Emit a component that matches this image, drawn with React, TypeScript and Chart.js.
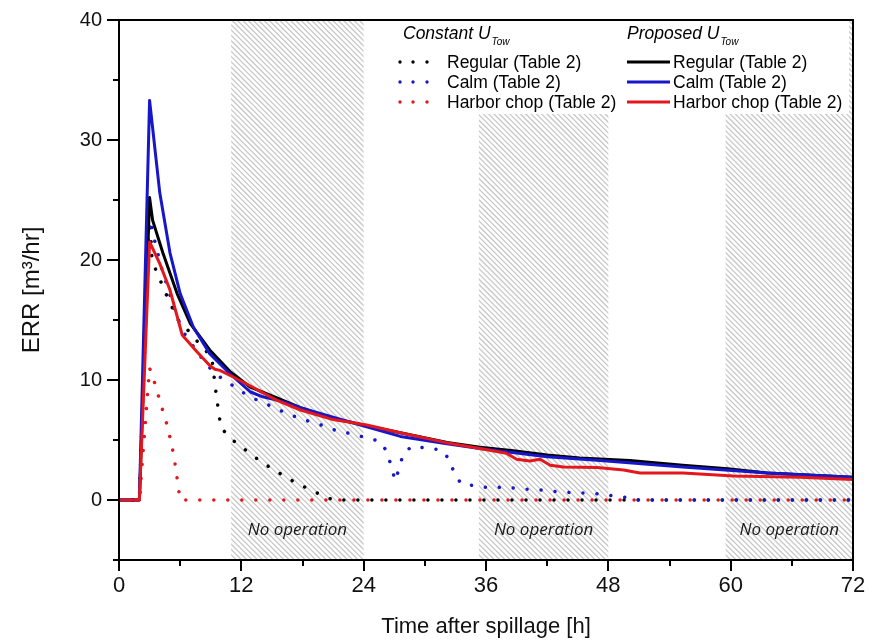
import React, { useEffect, useRef } from 'react';
import { Chart, registerables } from 'chart.js';

Chart.register(...registerables);

// ---------------- data ----------------
const xTickLabels = [0, 12, 24, 36, 48, 60, 72];
const yTickLabels = [0, 10, 20, 30, 40];

const noOperationStart = [11, 35.3, 59.5];
const noOperationEnd = [24, 48, 72];
const noOperationLabel = 'No operation';

const groupTitles = ['Constant U', 'Proposed U'];
const groupSubscript = 'Tow';
const seriesLabels = ['Regular (Table 2)', 'Calm (Table 2)', 'Harbor chop (Table 2)'];
const seriesColors = ['#000000', '#1717c9', '#e3171c'];

// Proposed U_Tow (solid)
const propRegularT = [0, 2, 3, 3.3, 4.3, 5.7, 7, 8.9, 10.9, 12.9, 15.5, 17.8, 21, 24.3, 27.6, 32.2, 35.4, 38.7, 42, 45.2, 50.1, 55.3, 59.7, 63.6, 72];
const propRegularV = [0, 0, 25.2, 23.3, 20.6, 17.2, 14.7, 12.5, 10.7, 9.4, 8.5, 7.7, 6.8, 6.2, 5.6, 4.8, 4.4, 4.1, 3.75, 3.5, 3.3, 2.9, 2.6, 2.25, 1.9];

const propCalmT = [0, 2, 3, 4, 5, 6, 7.3, 8.9, 10.9, 12.9, 14.1, 16.1, 17.8, 21, 24.3, 27.6, 32, 35.4, 42, 47.2, 55.3, 63.6, 72];
const propCalmV = [0, 0, 33.3, 25.6, 20.6, 17.2, 14.4, 12.2, 10.5, 9.0, 8.6, 8.2, 7.7, 6.9, 6.1, 5.3, 4.7, 4.3, 3.6, 3.3, 2.75, 2.25, 1.9];

const propHarborT = [0, 2, 3, 4, 5, 6.2, 7.6, 8.9, 9.4, 9.9, 11.2, 12.9, 15.5, 17.8, 21, 24.3, 27.6, 32, 35.4, 38, 39, 40.3, 41.3, 42.3, 43.6, 46.9, 49.5, 51.1, 55.3, 60.3, 66.8, 72];
const propHarborV = [0, 0, 21.5, 19.7, 17.5, 13.75, 12.4, 11.2, 10.9, 10.8, 10.25, 9.5, 8.3, 7.5, 6.7, 6.25, 5.6, 4.8, 4.3, 3.9, 3.4, 3.25, 3.4, 2.9, 2.75, 2.7, 2.5, 2.25, 2.25, 2.0, 1.9, 1.7];

// Constant U_Tow (dotted)
const constRegularT = [0, 2, 3, 3.2, 3.6, 4.2, 4.8, 5.8, 6.6, 7.8, 9.1, 9.4, 9.6, 9.8, 10, 11.3, 12.8, 14.1, 15.6, 17, 18.4, 19.9, 21, 72];
const constRegularV = [0, 0, 24.5, 20.4, 19.2, 18, 16.8, 15, 14.3, 13.1, 11.9, 9.75, 8.4, 7.2, 6.0, 4.9, 3.9, 3.1, 2.3, 1.6, 1.0, 0.4, 0, 0];

const constCalmT = [0, 2, 3, 3.3, 3.7, 4.0, 5.7, 6.5, 8.6, 9.9, 11.4, 12.8, 14.2, 15.7, 17.1, 18.5, 20, 21.4, 22.9, 24.2, 25.6, 26.3, 27.1, 27.5, 27.9, 28.8, 30.2, 31.6, 32.4, 32.9, 33.6, 35, 36.4, 37.9, 39.4, 40.7, 42.2, 43.6, 45, 46.4, 47.9, 49.4, 50.6, 51, 72];
const constCalmV = [0, 0, 24.5, 22.2, 21, 19.8, 15.2, 13.75, 11.25, 10.25, 9.4, 8.6, 8.1, 7.5, 7.0, 6.6, 6.2, 5.75, 5.5, 5.2, 4.9, 4.0, 1.6, 2.7, 3.9, 4.5, 4.3, 4.2, 3.4, 2.2, 1.3, 1.2, 1.0, 1.1, 0.9, 0.9, 0.75, 0.67, 0.58, 0.58, 0.4, 0.25, 0.1, 0, 0];

const constHarborT = [0, 2, 3, 3.5, 4, 4.8, 5.4, 6, 72];
const constHarborV = [0, 0, 11, 9.75, 8.3, 6.0, 3.6, 0, 0];

// ---------------- helpers ----------------
const pts = (t: number[], v: number[]) => t.map((x, i) => ({ x, y: v[i] }));

const dotted = (t: number[], v: number[], color: string, order: number) => ({
  data: pts(t, v),
  borderColor: color,
  borderWidth: 3.5,
  borderDash: [0.01, 14],
  borderCapStyle: 'round' as const,
  pointRadius: 0,
  tension: 0,
  fill: false,
  order,
});

const solid = (t: number[], v: number[], color: string, order: number) => ({
  data: pts(t, v),
  borderColor: color,
  borderWidth: 3,
  pointRadius: 0,
  tension: 0,
  fill: false,
  borderJoinStyle: 'round' as const,
  order,
});

const zeroPadding = (s: any) => {
  s.paddingTop = 0;
  s.paddingBottom = 0;
  s.paddingLeft = 0;
  s.paddingRight = 0;
};

const decorPlugin = {
  id: 'decor',
  beforeDatasetsDraw(chart: any) {
    const { ctx, chartArea: a, scales } = chart;
    const xs = scales.x;
    const ys = scales.y;
    ctx.save();
    // hatched "no operation" bands
    noOperationStart.forEach((s, i) => {
      const x0 = xs.getPixelForValue(s);
      const x1 = xs.getPixelForValue(noOperationEnd[i]);
      const h = a.bottom - a.top;
      ctx.save();
      ctx.beginPath();
      ctx.rect(x0, a.top, x1 - x0, h);
      ctx.clip();
      ctx.strokeStyle = '#c8c8c8';
      ctx.lineWidth = 1.3;
      ctx.beginPath();
      for (let p = x0 - h; p <= x1 + 6; p += 5.3) {
        ctx.moveTo(p, a.top);
        ctx.lineTo(p + h, a.bottom);
      }
      ctx.stroke();
      ctx.restore();
      ctx.fillStyle = '#1a1a1a';
      ctx.font = 'italic 17px "Open Sans", sans-serif';
      ctx.textAlign = 'center';
      ctx.textBaseline = 'middle';
      ctx.fillText(noOperationLabel, (x0 + x1) / 2, ys.getPixelForValue(-2.5));
    });

    // legend box
    ctx.fillStyle = '#ffffff';
    ctx.fillRect(390, a.top + 1, 459, 93);
    const colX = [403, 627];
    ctx.fillStyle = '#000';
    ctx.textAlign = 'left';
    ctx.textBaseline = 'alphabetic';
    groupTitles.forEach((g, i) => {
      ctx.font = 'italic 17.5px "Liberation Sans", Arial, sans-serif';
      ctx.fillText(g, colX[i], 39);
      const w = ctx.measureText(g).width;
      ctx.font = 'italic 10px "Liberation Sans", Arial, sans-serif';
      ctx.fillText(groupSubscript, colX[i] + w + 1, 45);
    });
    const rowY = [62, 82, 102];
    seriesLabels.forEach((lab, i) => {
      const y = rowY[i];
      const c = seriesColors[i];
      ctx.fillStyle = c;
      [400, 413, 427].forEach((dx) => {
        ctx.beginPath();
        ctx.arc(dx, y, 1.7, 0, Math.PI * 2);
        ctx.fill();
      });
      ctx.strokeStyle = c;
      ctx.lineWidth = 3;
      ctx.beginPath();
      ctx.moveTo(627, y);
      ctx.lineTo(670, y);
      ctx.stroke();
      ctx.fillStyle = '#000';
      ctx.font = '17.5px "Liberation Sans", Arial, sans-serif';
      ctx.textBaseline = 'middle';
      ctx.fillText(lab, 447, y + 1);
      ctx.fillText(lab, 673, y + 1);
    });
    ctx.restore();
  },
  afterDatasetsDraw(chart: any) {
    const { ctx, chartArea: a, scales } = chart;
    const xs = scales.x;
    const ys = scales.y;
    ctx.save();
    ctx.strokeStyle = '#000';
    ctx.lineWidth = 2;
    ctx.strokeRect(a.left, a.top, a.right - a.left, a.bottom - a.top);
    ctx.beginPath();
    for (let v = -5; v <= 40; v += 5) {
      const len = v % 10 === 0 ? 12 : 6;
      const y = Math.round(ys.getPixelForValue(v));
      ctx.moveTo(a.left - len, y);
      ctx.lineTo(a.left, y);
    }
    for (let t = 0; t <= 72; t += 6) {
      const len = t % 12 === 0 ? 11 : 6;
      const x = Math.round(xs.getPixelForValue(t));
      ctx.moveTo(x, a.bottom);
      ctx.lineTo(x, a.bottom + len);
    }
    ctx.stroke();
    ctx.restore();
  },
};

export default function App() {
  const ref = useRef<HTMLCanvasElement>(null);
  useEffect(() => {
    document.body.style.margin = '0';
    const chart = new Chart(ref.current as HTMLCanvasElement, {
      type: 'line',
      data: {
        datasets: [
          dotted(constRegularT, constRegularV, seriesColors[0], 6),
          dotted(constCalmT, constCalmV, seriesColors[1], 5),
          dotted(constHarborT, constHarborV, seriesColors[2], 4),
          solid(propRegularT, propRegularV, seriesColors[0], 3),
          solid(propCalmT, propCalmV, seriesColors[1], 2),
          solid(propHarborT, propHarborV, seriesColors[2], 1),
        ] as any,
      },
      options: {
        animation: false,
        responsive: false,
        devicePixelRatio: 1,
        layout: { padding: { left: 0, right: 16, top: 20, bottom: 0 } },
        plugins: { legend: { display: false }, tooltip: { enabled: false } },
        scales: {
          x: {
            type: 'linear',
            min: 0,
            max: 72,
            grid: { display: false, drawTicks: false },
            border: { display: false },
            ticks: {
              stepSize: 6,
              autoSkip: false,
              maxRotation: 0,
              padding: 13,
              color: '#111',
              font: { family: '"Liberation Sans", Arial, sans-serif', size: 22 },
              callback: (v: any) => (xTickLabels.includes(Number(v)) ? String(v) : ''),
            },
            title: {
              display: true,
              text: 'Time after spillage [h]',
              color: '#111',
              font: { family: '"Liberation Sans", Arial, sans-serif', size: 22 },
              padding: { top: 0, bottom: 4 },
            },
            afterFit: (s: any) => {
              s.height = 84;
              zeroPadding(s);
            },
          },
          y: {
            type: 'linear',
            min: -5,
            max: 40,
            grid: { display: false, drawTicks: false },
            border: { display: false },
            ticks: {
              stepSize: 5,
              autoSkip: false,
              padding: 17,
              color: '#111',
              font: { family: '"Liberation Sans", Arial, sans-serif', size: 20 },
              callback: (v: any) => (yTickLabels.includes(Number(v)) ? String(v) : ''),
            },
            title: {
              display: true,
              text: 'ERR [m³/hr]',
              color: '#111',
              font: { family: '"Liberation Sans", Arial, sans-serif', size: 24 },
              padding: { top: 18, bottom: 0 },
            },
            afterFit: (s: any) => {
              s.width = 119;
              zeroPadding(s);
            },
          },
        },
      } as any,
      plugins: [decorPlugin],
    });
    return () => chart.destroy();
  }, []);
  return (
    <div style={{ width: 869, height: 644 }}>
      <canvas ref={ref} width={869} height={644} style={{ display: 'block' }} />
    </div>
  );
}
